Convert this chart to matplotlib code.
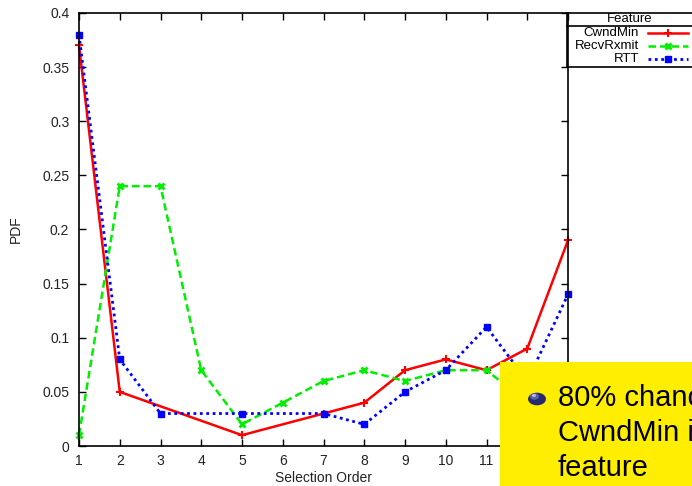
import matplotlib
matplotlib.use("Agg")
import matplotlib.pyplot as plt
from matplotlib.patches import Rectangle, Circle
from matplotlib.lines import Line2D

plt.rcParams['font.family'] = ['Liberation Sans', 'DejaVu Sans']

# data
cwnd_x = [1, 2, 5, 7, 8, 9, 10, 11, 12, 13]
cwnd_y = [0.37, 0.05, 0.01, 0.03, 0.04, 0.07, 0.08, 0.07, 0.09, 0.19]
recv_x = [1, 2, 3, 4, 5, 6, 7, 8, 9, 10, 11, 12, 13]
recv_y = [0.01, 0.24, 0.24, 0.07, 0.02, 0.04, 0.06, 0.07, 0.06, 0.07, 0.07, 0.04, 0.05]
rtt_x = [1, 2, 3, 5, 7, 8, 9, 10, 11, 12, 13]
rtt_y = [0.38, 0.08, 0.03, 0.03, 0.03, 0.02, 0.05, 0.07, 0.11, 0.06, 0.14]
xticks = list(range(1, 14))
yticks = [0, 0.05, 0.1, 0.15, 0.2, 0.25, 0.3, 0.35, 0.4]
names = ['CwndMin', 'RecvRxmit', 'RTT']

W, H = 692, 486
fig = plt.figure(figsize=(W / 100, H / 100), dpi=100)
ax = fig.add_axes([79 / W, 1 - 446 / H, (568 - 79) / W, (446 - 13) / H])

styles = [
    dict(color='#ff0000', ls='-', marker='+', ms=6, mew=1.5, lw=1.8),
    dict(color='#00ee00', ls=(0, (3, 1.6)), marker='x', ms=5, mew=2, lw=1.8),
    dict(color='#0000ff', ls=(0, (1, 1.3)), marker='s', ms=4.5, mew=1, lw=2),
]
ax.plot(cwnd_x, cwnd_y, **styles[0], clip_on=False)
ax.plot(recv_x, recv_y, **styles[1], clip_on=False)
ax.plot(rtt_x, rtt_y, **styles[2], clip_on=False)

ax.set_xlim(1, 13)
ax.set_ylim(0, 0.4)
ax.set_xticks(xticks)
ax.set_yticks(yticks)
ax.set_yticklabels(['0', '0.05', '0.1', '0.15', '0.2', '0.25', '0.3', '0.35', '0.4'])
ax.tick_params(direction='in', length=5, width=1, top=True, right=True,
               labelsize=10, colors='black', labelcolor='#222222', pad=7)
ax.tick_params(axis='x', pad=6)
for s in ax.spines.values():
    s.set_linewidth(1.2)
ax.set_xlabel('Selection Order', fontsize=10, labelpad=2, color='#222222')
ax.set_ylabel('PDF', fontsize=10, labelpad=14, color='#222222')

# gnuplot style key, outside the plot on the right
def px(x, y):
    return x / W, 1 - y / H

tf = fig.transFigure
for (x0, y0), (x1, y1) in [((567, 13), (700, 13)), ((567, 26), (700, 26)),
                           ((567, 67), (700, 67)), ((567, 13), (567, 67))]:
    a, b = px(x0, y0)
    c, d = px(x1, y1)
    fig.add_artist(Line2D([a, c], [b, d], transform=tf, color='black', lw=1.2))
fig.text(*px(630, 19.5), 'Feature', ha='center', va='center', fontsize=9.5)
for i, (name, st) in enumerate(zip(names, styles)):
    yy = 33 + i * 13
    fig.text(*px(639, yy), name, ha='right', va='center', fontsize=9.5)
    a, b = px(648, yy)
    c, _ = px(688, yy)
    fig.add_artist(Line2D([a, c], [b, b], transform=tf, color=st['color'],
                          ls=st['ls'], lw=st['lw']))
    m = px(668, yy)
    fig.add_artist(Line2D([m[0]], [m[1]], transform=tf, color=st['color'],
                          marker=st['marker'], ms=st['ms'], mew=st['mew'], ls='none'))

# yellow slide callout covering the lower right corner
x0, y0 = px(500, 486)
fig.add_artist(Rectangle((x0, y0), 1 - x0, px(0, 362)[1] - y0, transform=tf,
                         facecolor='#ffee00', edgecolor='none', zorder=5))
cx, cy = px(537, 399)
fig.add_artist(Circle((cx, cy), 9 / W, transform=tf, facecolor='#262b70',
                      edgecolor='none', zorder=6))
fig.add_artist(Circle((cx - 2.5 / W, cy + 2.5 / H), 4.5 / W, transform=tf,
                      facecolor='#6a70b8', edgecolor='none', zorder=6, alpha=0.8))
fig.add_artist(Circle((cx - 3 / W, cy + 3.5 / H), 2 / W, transform=tf,
                      facecolor='#c8ccf0', edgecolor='none', zorder=6, alpha=0.9))
lines = ['80% chance', 'CwndMin is', 'feature']
for i, t in enumerate(lines):
    fig.text(*px(558, 398 + i * 35), t, ha='left', va='center', fontsize=21,
             color='black', zorder=7)

fig.savefig('out.png', dpi=100)
